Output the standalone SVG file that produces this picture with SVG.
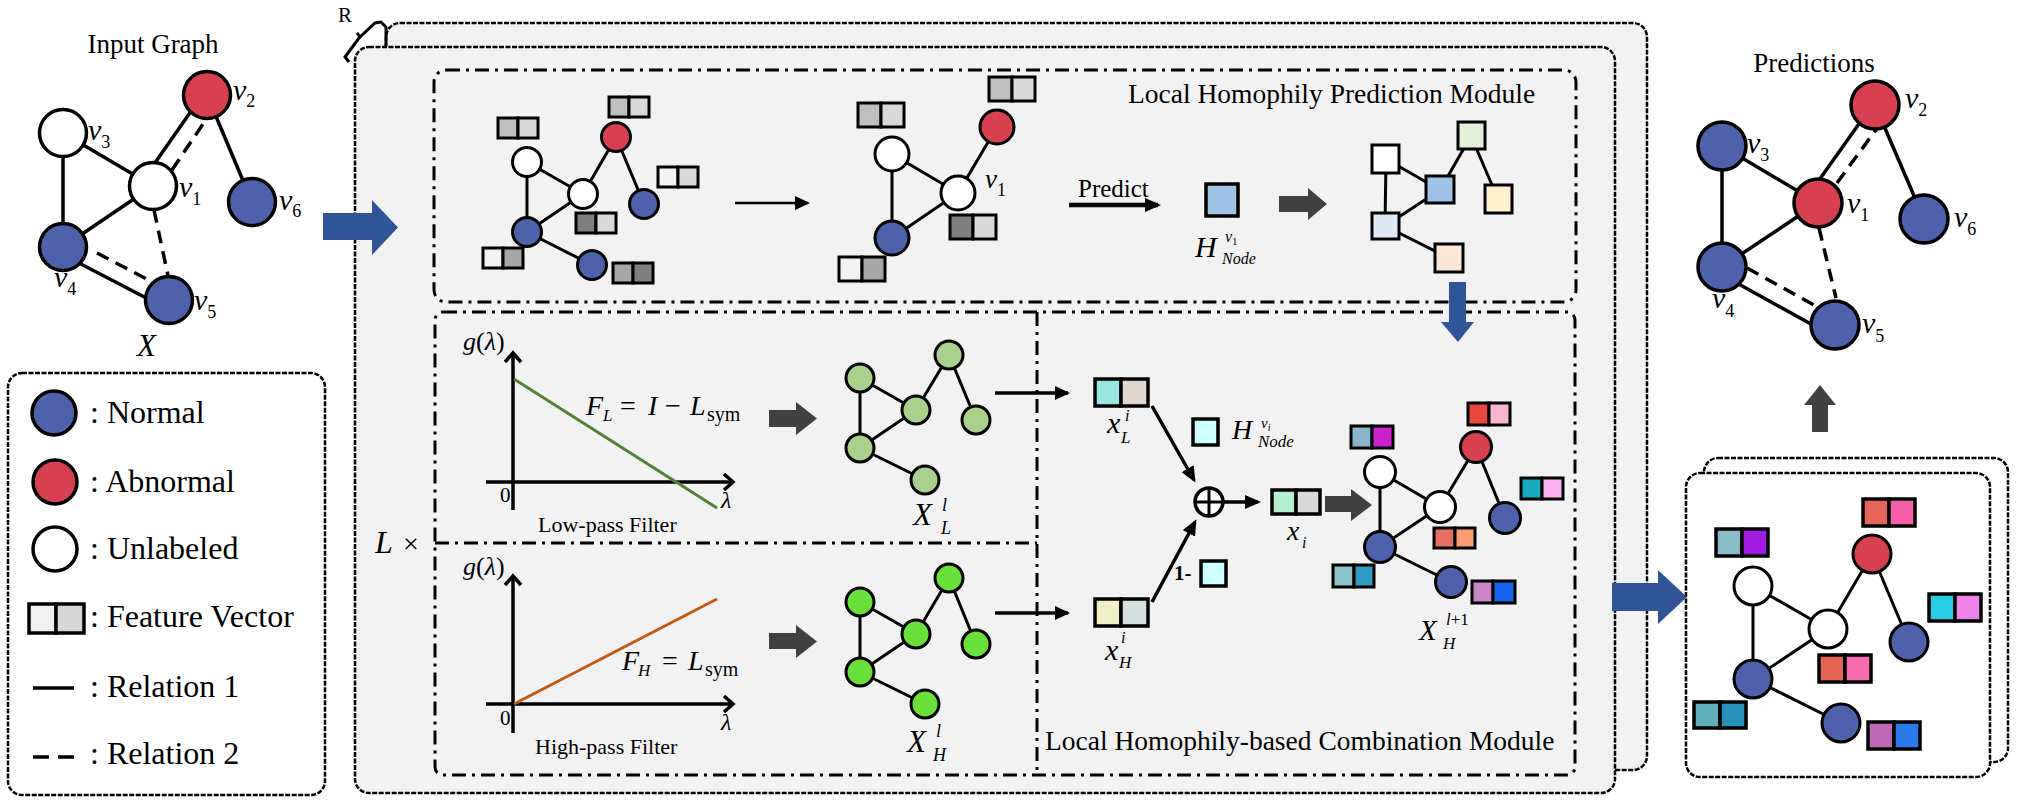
<svg xmlns="http://www.w3.org/2000/svg" width="2029" height="806" viewBox="0 0 2029 806">
<defs>
<marker id="ah" markerUnits="userSpaceOnUse" markerWidth="16" markerHeight="14" refX="13" refY="7" orient="auto"><path d="M0,0 L16,7 L0,14 z" fill="#000"/></marker>
<marker id="ahs" markerUnits="userSpaceOnUse" markerWidth="15" markerHeight="14" refX="13" refY="7" orient="auto"><path d="M0,0 L15,7 L0,14 z" fill="#000"/></marker>
</defs>
<style>
text{font-family:"Liberation Serif","Times New Roman",serif;fill:#000}
.i{font-style:italic}
.n{stroke:#000;stroke-width:3}
.n35{stroke:#000;stroke-width:3.5}
.B{fill:#4E62AB}
.R{fill:#D6404F}
.W{fill:#fff}
.G1{fill:#A9D18E}
.G2{fill:#69E03A}
.e{stroke:#000;stroke-width:3;fill:none}
.e35{stroke:#000;stroke-width:3.5;fill:none}
.d{stroke-dasharray:13 8}
.fv rect{stroke:#000;stroke-width:3}
.fv35 rect{stroke:#000;stroke-width:3.5}
.frame{fill:#F2F2F2;stroke:#000;stroke-width:2.5;stroke-dasharray:5 1.5}
.wframe{fill:#fff;stroke:#000;stroke-width:2.5;stroke-dasharray:5 1.5}
.mod{fill:none;stroke:#000;stroke-width:3;stroke-dasharray:14 6 3 6}
.blk{fill:#404040}
.blu{fill:#2F5597}
.ax{stroke:#000;stroke-width:3.5;fill:none}
</style>

<!-- Input graph -->
<g id="input-graph">
<text x="153" y="53" font-size="27" text-anchor="middle">Input Graph</text>
<g class="e35">
<line x1="63" y1="133" x2="153" y2="186"/>
<line x1="63" y1="133" x2="63" y2="247"/>
<line x1="153" y1="186" x2="63" y2="247"/>
<line x1="207" y1="95" x2="252" y2="202"/>
<line x1="150" y1="170" x2="194" y2="107"/>
<line class="d" x1="172" y1="170" x2="209" y2="115"/>
<line x1="77" y1="262" x2="152" y2="301"/>
<line class="d" x1="97" y1="253" x2="158" y2="285"/>
<line class="d" x1="154" y1="210" x2="170" y2="285"/>
</g>
<circle class="n35 R" cx="207" cy="95" r="23.5"/>
<circle class="n35 W" cx="63" cy="133" r="23.5"/>
<circle class="n35 W" cx="153" cy="186" r="23.5"/>
<circle class="n35 B" cx="252" cy="202" r="23.5"/>
<circle class="n35 B" cx="63" cy="247" r="23.5"/>
<circle class="n35 B" cx="169" cy="300" r="23.5"/>
<text x="233" y="100"><tspan class="i" font-size="30">v</tspan><tspan font-size="18" dy="7">2</tspan></text>
<text x="88" y="140"><tspan class="i" font-size="30">v</tspan><tspan font-size="18" dy="8">3</tspan></text>
<text x="179" y="197"><tspan class="i" font-size="30">v</tspan><tspan font-size="18" dy="8">1</tspan></text>
<text x="279" y="210"><tspan class="i" font-size="30">v</tspan><tspan font-size="18" dy="7">6</tspan></text>
<text x="54" y="287"><tspan class="i" font-size="30">v</tspan><tspan font-size="18" dy="8">4</tspan></text>
<text x="194" y="310"><tspan class="i" font-size="30">v</tspan><tspan font-size="18" dy="8">5</tspan></text>
<text x="137" y="356" class="i" font-size="31">X</text>
</g>

<!-- Legend -->
<g id="legend">
<rect class="wframe" x="8" y="373" width="317" height="422" rx="14"/>
<circle class="n35 B" cx="54" cy="413" r="22"/>
<text x="90" y="423" font-size="32">: Normal</text>
<circle class="n35 R" cx="55" cy="482" r="22"/>
<text x="90" y="492" font-size="32">: Abnormal</text>
<circle class="n35 W" cx="55" cy="549" r="22"/>
<text x="90" y="559" font-size="32">: Unlabeled</text>
<g class="fv35"><rect x="29" y="604" width="27" height="29" fill="#F0F0F0"/><rect x="56" y="604" width="28" height="29" fill="#D6D6D6"/></g>
<text x="90" y="627" font-size="32">: Feature Vector</text>
<line class="e35" x1="33" y1="688" x2="74" y2="688"/>
<text x="90" y="697" font-size="32">: Relation 1</text>
<line class="e35" x1="33" y1="757" x2="74" y2="757" stroke-dasharray="16 9"/>
<text x="90" y="764" font-size="32">: Relation 2</text>
</g>

<!-- Main panel frames -->
<g id="main-frames">
<rect class="frame" x="386" y="23" width="1261" height="747" rx="14"/>
<rect class="frame" x="355" y="47" width="1260" height="746" rx="14"/>
<path d="M349,62 L345,57 L359,38 L375,23 L381,22 L386,27 L386,46 M357,33 L361,38" fill="none" stroke="#000" stroke-width="3"/>
<text x="338" y="22" font-size="21">R</text>
<text x="375" y="553" class="i" font-size="32">L</text>
<text x="403" y="553" font-size="28">×</text>
</g>

<!-- Local Homophily Prediction Module -->
<g id="prediction-module">
<rect class="mod" x="434" y="70" width="1142" height="232" rx="12"/>
<text x="1128" y="103" font-size="27.5">Local Homophily Prediction Module</text>
<!-- graph 1 -->
<g class="e">
<line x1="527" y1="162" x2="583" y2="194"/>
<line x1="527" y1="162" x2="527" y2="232"/>
<line x1="583" y1="194" x2="527" y2="232"/>
<line x1="583" y1="194" x2="616" y2="137"/>
<line x1="616" y1="137" x2="644" y2="204"/>
<line x1="527" y1="232" x2="592" y2="265"/>
</g>
<circle class="n W" cx="527" cy="162" r="14.5"/>
<circle class="n R" cx="616" cy="137" r="14.5"/>
<circle class="n W" cx="583" cy="194" r="14.5"/>
<circle class="n B" cx="644" cy="204" r="14.5"/>
<circle class="n B" cx="527" cy="232" r="14.5"/>
<circle class="n B" cx="592" cy="265" r="14.5"/>
<g class="fv"><rect x="498" y="118" width="20" height="20" fill="#BFBFBF"/><rect x="518" y="118" width="20" height="20" fill="#D9D9D9"/></g>
<g class="fv"><rect x="609" y="97" width="20" height="20" fill="#BFBFBF"/><rect x="629" y="97" width="20" height="20" fill="#D9D9D9"/></g>
<g class="fv"><rect x="658" y="167" width="20" height="20" fill="#F2F2F2"/><rect x="678" y="167" width="20" height="20" fill="#D9D9D9"/></g>
<g class="fv"><rect x="576" y="213" width="20" height="20" fill="#7F7F7F"/><rect x="596" y="213" width="20" height="20" fill="#D9D9D9"/></g>
<g class="fv"><rect x="483" y="248" width="20" height="20" fill="#F2F2F2"/><rect x="503" y="248" width="20" height="20" fill="#A6A6A6"/></g>
<g class="fv"><rect x="613" y="263" width="20" height="20" fill="#A6A6A6"/><rect x="633" y="263" width="20" height="20" fill="#7F7F7F"/></g>
<!-- graph 2 -->
<g class="e">
<line x1="892" y1="154" x2="958" y2="193"/>
<line x1="892" y1="154" x2="892" y2="238"/>
<line x1="958" y1="193" x2="892" y2="238"/>
<line x1="958" y1="193" x2="997" y2="127"/>
</g>
<circle class="n W" cx="892" cy="154" r="17"/>
<circle class="n R" cx="997" cy="127" r="17"/>
<circle class="n W" cx="958" cy="193" r="17"/>
<circle class="n B" cx="892" cy="238" r="17"/>
<text x="985" y="188"><tspan class="i" font-size="27">v</tspan><tspan font-size="18" dy="8">1</tspan></text>
<g class="fv"><rect x="858" y="103" width="23" height="24" fill="#BFBFBF"/><rect x="881" y="103" width="23" height="24" fill="#D9D9D9"/></g>
<g class="fv"><rect x="989" y="77" width="23" height="24" fill="#BFBFBF"/><rect x="1012" y="77" width="23" height="24" fill="#D9D9D9"/></g>
<g class="fv"><rect x="950" y="215" width="23" height="24" fill="#7F7F7F"/><rect x="973" y="215" width="23" height="24" fill="#D9D9D9"/></g>
<g class="fv"><rect x="839" y="257" width="23" height="24" fill="#F2F2F2"/><rect x="862" y="257" width="23" height="24" fill="#A6A6A6"/></g>
<text x="1078" y="197" font-size="25">Predict</text>
<rect x="1206" y="184" width="32" height="32" fill="#9DC3E6" stroke="#000" stroke-width="3.5"/>
<text x="1195" y="257" class="i" font-size="30">H</text>
<text x="1225" y="242" class="i" font-size="16">v<tspan font-size="11" dy="3" font-style="normal">1</tspan></text>
<text x="1222" y="264" class="i" font-size="16">Node</text>
<!-- square graph -->
<g class="e">
<line x1="1386" y1="159" x2="1440" y2="190"/>
<line x1="1386" y1="159" x2="1385" y2="226"/>
<line x1="1440" y1="190" x2="1471" y2="136"/>
<line x1="1471" y1="136" x2="1498" y2="199"/>
<line x1="1385" y1="226" x2="1440" y2="190"/>
<line x1="1385" y1="226" x2="1449" y2="258"/>
</g>
<g class="n">
<rect x="1372" y="145" width="27" height="28" fill="#fff"/>
<rect x="1458" y="122" width="27" height="27" fill="#E2F0D9"/>
<rect x="1426" y="176" width="28" height="27" fill="#9DC3E6"/>
<rect x="1485" y="185" width="27" height="28" fill="#FFF2CC"/>
<rect x="1372" y="213" width="27" height="26" fill="#DEEBF7"/>
<rect x="1435" y="244" width="28" height="28" fill="#FBE5D6"/>
</g>
</g>

<!-- Combination module frame & filters -->
<g id="combination-module">
<rect class="mod" x="435" y="312" width="1140" height="463" rx="8"/>
<line class="mod" x1="1037" y1="312" x2="1037" y2="775"/>
<line class="mod" x1="435" y1="543" x2="1037" y2="543"/>
<text x="1045" y="750" font-size="27.5">Local Homophily-based Combination Module</text>
</g>

<g id="low-pass-filter">
<line class="ax" x1="513" y1="510" x2="513" y2="353"/>
<path class="ax" d="M505,362 L513,353 L521,362"/>
<line class="ax" x1="486" y1="482" x2="733" y2="482"/>
<path class="ax" d="M724,474 L733,482 L724,490"/>
<line x1="514" y1="379" x2="717" y2="508" stroke="#538135" stroke-width="3"/>
<text x="463" y="350" font-size="26"><tspan class="i">g</tspan>(<tspan class="i">λ</tspan>)</text>
<text x="500" y="502" font-size="21">0</text>
<text x="721" y="508" class="i" font-size="24">λ</text>
<text y="415" font-size="28"><tspan x="586" class="i">F</tspan><tspan x="603" dy="6" class="i" font-size="17">L</tspan><tspan x="620" dy="-6">=</tspan><tspan x="648" class="i">I</tspan><tspan x="665">−</tspan><tspan x="690" class="i">L</tspan><tspan x="707" dy="6" font-size="20">sym</tspan></text>
<text x="538" y="532" font-size="22">Low-pass Filter</text>
<polygon class="blk" points="769,410 796,410 796,402 817,418.5 796,435 796,427 769,427"/>
<g class="e">
<line x1="860" y1="378" x2="916" y2="410"/>
<line x1="860" y1="378" x2="860" y2="448"/>
<line x1="916" y1="410" x2="860" y2="448"/>
<line x1="916" y1="410" x2="949" y2="355"/>
<line x1="949" y1="355" x2="976" y2="420"/>
<line x1="860" y1="448" x2="925" y2="480"/>
</g>
<circle class="n G1" cx="860" cy="378" r="14"/>
<circle class="n G1" cx="949" cy="355" r="14"/>
<circle class="n G1" cx="916" cy="410" r="14"/>
<circle class="n G1" cx="976" cy="420" r="14"/>
<circle class="n G1" cx="860" cy="448" r="14"/>
<circle class="n G1" cx="925" cy="480" r="14"/>
<text x="913" y="525" class="i" font-size="31">X</text>
<text x="942" y="511" class="i" font-size="18">l</text>
<text x="941" y="534" class="i" font-size="18">L</text>
</g>

<g id="high-pass-filter">
<line class="ax" x1="513" y1="733" x2="513" y2="576"/>
<path class="ax" d="M505,585 L513,576 L521,585"/>
<line class="ax" x1="486" y1="704" x2="733" y2="704"/>
<path class="ax" d="M724,696 L733,704 L724,712"/>
<line x1="514" y1="704" x2="717" y2="599" stroke="#C55A11" stroke-width="3"/>
<text x="463" y="575" font-size="26"><tspan class="i">g</tspan>(<tspan class="i">λ</tspan>)</text>
<text x="500" y="725" font-size="21">0</text>
<text x="721" y="730" class="i" font-size="24">λ</text>
<text y="670" font-size="28"><tspan x="622" class="i">F</tspan><tspan x="638" dy="6" class="i" font-size="17">H</tspan><tspan x="662" dy="-6">=</tspan><tspan x="688" class="i">L</tspan><tspan x="705" dy="6" font-size="20">sym</tspan></text>
<text x="535" y="754" font-size="22">High-pass Filter</text>
<polygon class="blk" points="769,633 796,633 796,625 817,641.5 796,658 796,649 769,649"/>
<g class="e">
<line x1="860" y1="602" x2="916" y2="634"/>
<line x1="860" y1="602" x2="860" y2="672"/>
<line x1="916" y1="634" x2="860" y2="672"/>
<line x1="916" y1="634" x2="949" y2="578"/>
<line x1="949" y1="578" x2="976" y2="644"/>
<line x1="860" y1="672" x2="925" y2="704"/>
</g>
<circle class="n G2" cx="860" cy="602" r="14"/>
<circle class="n G2" cx="949" cy="578" r="14"/>
<circle class="n G2" cx="916" cy="634" r="14"/>
<circle class="n G2" cx="976" cy="644" r="14"/>
<circle class="n G2" cx="860" cy="672" r="14"/>
<circle class="n G2" cx="925" cy="704" r="14"/>
<text x="907" y="752" class="i" font-size="31">X</text>
<text x="936" y="737" class="i" font-size="18">l</text>
<text x="933" y="761" class="i" font-size="18">H</text>
</g>

<g id="combination">
<g class="fv35"><rect x="1095" y="379" width="26" height="27" fill="#97E6E0"/><rect x="1121" y="379" width="27" height="27" fill="#E0D8CF"/></g>
<text x="1107" y="433" class="i" font-size="30">x</text>
<text x="1125" y="421" class="i" font-size="16">i</text>
<text x="1121" y="443" class="i" font-size="17">L</text>
<g class="fv35"><rect x="1095" y="599" width="26" height="27" fill="#EEF0C4"/><rect x="1121" y="599" width="27" height="27" fill="#D3E0DF"/></g>
<text x="1105" y="660" class="i" font-size="30">x</text>
<text x="1121" y="643" class="i" font-size="16">i</text>
<text x="1119" y="668" class="i" font-size="17">H</text>
<rect x="1193" y="419" width="25" height="26" fill="#CCFFFF" stroke="#000" stroke-width="3.5"/>
<text x="1232" y="439" class="i" font-size="28">H</text>
<text x="1261" y="428" class="i" font-size="15">v<tspan font-size="10" dy="3">i</tspan></text>
<text x="1258" y="447" class="i" font-size="17">Node</text>
<text x="1174" y="580" font-size="21" font-weight="bold">1-</text>
<rect x="1201" y="561" width="25" height="25" fill="#CCFFFF" stroke="#000" stroke-width="3.5"/>
<circle cx="1209" cy="502" r="14" fill="#fff" stroke="#000" stroke-width="3.5"/>
<path d="M1195,502 H1223 M1209,488 V516" stroke="#000" stroke-width="3"/>
<g class="fv35"><rect x="1272" y="490" width="24" height="24" fill="#B4F0D0"/><rect x="1296" y="490" width="24" height="24" fill="#D9D9D9"/></g>
<text x="1287" y="540" class="i" font-size="28">x</text>
<text x="1302" y="548" class="i" font-size="16">i</text>
<polygon class="blk" points="1325,496 1351,496 1351,489 1372,505 1351,521 1351,512 1325,512"/>
<g class="e">
<line x1="1380" y1="472" x2="1440" y2="507"/>
<line x1="1380" y1="472" x2="1380" y2="547"/>
<line x1="1440" y1="507" x2="1380" y2="547"/>
<line x1="1440" y1="507" x2="1476" y2="447"/>
<line x1="1476" y1="447" x2="1505" y2="518"/>
<line x1="1380" y1="547" x2="1451" y2="582"/>
</g>
<circle class="n W" cx="1380" cy="472" r="15.5"/>
<circle class="n R" cx="1476" cy="447" r="15.5"/>
<circle class="n W" cx="1440" cy="507" r="15.5"/>
<circle class="n B" cx="1505" cy="518" r="15.5"/>
<circle class="n B" cx="1380" cy="547" r="15.5"/>
<circle class="n B" cx="1451" cy="582" r="15.5"/>
<g class="fv"><rect x="1351" y="426" width="21" height="22" fill="#8AB5CC"/><rect x="1372" y="426" width="21" height="22" fill="#CC22CC"/></g>
<g class="fv"><rect x="1468" y="403" width="21" height="22" fill="#E8473B"/><rect x="1489" y="403" width="21" height="22" fill="#F9B5D0"/></g>
<g class="fv"><rect x="1521" y="478" width="21" height="21" fill="#19A9BE"/><rect x="1542" y="478" width="21" height="21" fill="#F7B3F0"/></g>
<g class="fv"><rect x="1434" y="528" width="21" height="20" fill="#E87063"/><rect x="1455" y="528" width="20" height="20" fill="#F99D72"/></g>
<g class="fv"><rect x="1333" y="565" width="21" height="22" fill="#8BC1CB"/><rect x="1354" y="565" width="20" height="22" fill="#2E9CC6"/></g>
<g class="fv"><rect x="1472" y="581" width="21" height="22" fill="#C986C6"/><rect x="1493" y="581" width="22" height="22" fill="#1566EE"/></g>
<text x="1419" y="640" class="i" font-size="29">X</text>
<text x="1446" y="625" font-size="17"><tspan class="i">l</tspan>+1</text>
<text x="1443" y="649" class="i" font-size="17">H</text>
</g>

<!-- Right panel -->
<g id="output-graph">
<rect class="wframe" x="1704" y="458" width="304" height="304" rx="14"/>
<rect class="wframe" x="1686" y="473" width="304" height="304" rx="14"/>
<g class="e">
<line x1="1753" y1="586" x2="1828" y2="629"/>
<line x1="1753" y1="586" x2="1753" y2="679"/>
<line x1="1828" y1="629" x2="1753" y2="679"/>
<line x1="1828" y1="629" x2="1872" y2="554"/>
<line x1="1872" y1="554" x2="1909" y2="642"/>
<line x1="1753" y1="679" x2="1841" y2="723"/>
</g>
<circle class="n W" cx="1753" cy="586" r="19"/>
<circle class="n R" cx="1872" cy="554" r="19"/>
<circle class="n W" cx="1828" cy="629" r="19"/>
<circle class="n B" cx="1909" cy="642" r="19"/>
<circle class="n B" cx="1753" cy="679" r="19"/>
<circle class="n B" cx="1841" cy="723" r="19"/>
<g class="fv35"><rect x="1716" y="529" width="26" height="27" fill="#8ABBC9"/><rect x="1742" y="529" width="26" height="27" fill="#A01CE0"/></g>
<g class="fv35"><rect x="1863" y="499" width="26" height="27" fill="#E8655A"/><rect x="1889" y="499" width="26" height="27" fill="#F65FA8"/></g>
<g class="fv35"><rect x="1929" y="594" width="26" height="27" fill="#29CCE3"/><rect x="1955" y="594" width="26" height="27" fill="#F083E8"/></g>
<g class="fv35"><rect x="1819" y="655" width="26" height="27" fill="#E86456"/><rect x="1845" y="655" width="26" height="27" fill="#F86BAE"/></g>
<g class="fv35"><rect x="1694" y="702" width="26" height="26" fill="#62ADBB"/><rect x="1720" y="702" width="26" height="26" fill="#2891BA"/></g>
<g class="fv35"><rect x="1868" y="722" width="26" height="27" fill="#BF69B6"/><rect x="1894" y="722" width="26" height="27" fill="#2A7AEA"/></g>
</g>

<!-- Predictions -->
<g id="predictions">
<text x="1814" y="72" font-size="27" text-anchor="middle">Predictions</text>
<g class="e35">
<line x1="1722" y1="146" x2="1818" y2="203"/>
<line x1="1722" y1="146" x2="1722" y2="267"/>
<line x1="1818" y1="203" x2="1722" y2="267"/>
<line x1="1875" y1="105" x2="1924" y2="219"/>
<line x1="1817" y1="183" x2="1861" y2="121"/>
<line class="d" x1="1837" y1="183" x2="1878" y2="127"/>
<line x1="1735" y1="282" x2="1818" y2="328"/>
<line class="d" x1="1747" y1="268" x2="1823" y2="310"/>
<line class="d" x1="1819" y1="228" x2="1836" y2="298"/>
</g>
<circle class="n35 R" cx="1875" cy="105" r="24"/>
<circle class="n35 B" cx="1722" cy="146" r="24"/>
<circle class="n35 R" cx="1818" cy="203" r="24"/>
<circle class="n35 B" cx="1924" cy="219" r="24"/>
<circle class="n35 B" cx="1722" cy="267" r="24"/>
<circle class="n35 B" cx="1835" cy="325" r="24"/>
<text x="1905" y="108"><tspan class="i" font-size="30">v</tspan><tspan font-size="18" dy="8">2</tspan></text>
<text x="1747" y="153"><tspan class="i" font-size="30">v</tspan><tspan font-size="18" dy="8">3</tspan></text>
<text x="1847" y="213"><tspan class="i" font-size="30">v</tspan><tspan font-size="18" dy="8">1</tspan></text>
<text x="1954" y="227"><tspan class="i" font-size="30">v</tspan><tspan font-size="18" dy="8">6</tspan></text>
<text x="1712" y="308"><tspan class="i" font-size="30">v</tspan><tspan font-size="18" dy="9">4</tspan></text>
<text x="1862" y="333"><tspan class="i" font-size="30">v</tspan><tspan font-size="18" dy="9">5</tspan></text>
</g>

<!-- Connectors -->
<g id="connectors">
<polygon class="blu" points="323,213 372,213 372,200 398,227.5 372,255 372,240 323,240"/>
<line x1="735" y1="203" x2="808" y2="203" stroke="#000" stroke-width="2.5" marker-end="url(#ahs)"/>
<line x1="1069" y1="205" x2="1158" y2="205" stroke="#000" stroke-width="4.5" marker-end="url(#ah)"/>
<polygon class="blk" points="1279,196 1308,196 1308,188 1327,204 1308,220 1308,212 1279,212"/>
<polygon class="blu" points="1449,282 1466,282 1466,322 1474,322 1458,342 1441,322 1449,322"/>
<line x1="995" y1="393" x2="1068" y2="393" stroke="#000" stroke-width="3.5" marker-end="url(#ahs)"/>
<line x1="995" y1="613" x2="1068" y2="613" stroke="#000" stroke-width="3.5" marker-end="url(#ahs)"/>
<line x1="1152" y1="406" x2="1194" y2="480" stroke="#000" stroke-width="3.5" marker-end="url(#ah)"/>
<line x1="1152" y1="602" x2="1195" y2="522" stroke="#000" stroke-width="3.5" marker-end="url(#ah)"/>
<line x1="1223" y1="502" x2="1258" y2="502" stroke="#000" stroke-width="3.5" marker-end="url(#ah)"/>
<polygon class="blu" points="1612,583 1658,583 1658,570 1687,597 1658,624 1658,611 1612,611"/>
<polygon class="blk" points="1812,432 1812,405 1804,405 1820,385 1836,405 1828,405 1828,432"/>
</g>
</svg>
